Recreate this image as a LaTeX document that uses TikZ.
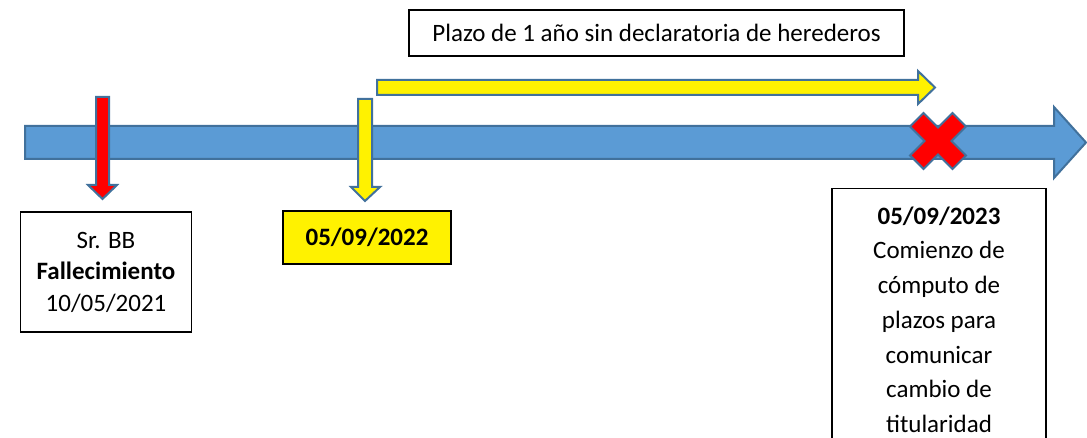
\documentclass[tikz,border=0pt]{standalone}
\usepackage{fontspec}
\setmainfont{Carlito}
\definecolor{barblue}{RGB}{91,155,213}
\definecolor{edgeblue}{RGB}{65,113,156}
\tikzset{
  shapeline/.style={draw=edgeblue, line width=2, line join=miter},
  infobox/.style={draw=black, line width=1.5, fill=white, align=center, inner sep=0, font=\fontsize{25}{31.5}\selectfont}
}
\begin{document}
\begin{tikzpicture}[x=1pt,y=1pt,yscale=-1,xscale=1]
\useasboundingbox (0,0) rectangle (1087,438);

%Shape: Right Arrow (timeline)
\draw [shapeline, fill=barblue] (25,126) -- (1054,126) -- (1054,107) -- (1086,142.5) -- (1054,178) -- (1054,159) -- (25,159) -- cycle ;

%Shape: Down Arrow
\draw [shapeline, fill=red] (96,97) -- (109,97) -- (109,185) -- (117,185) -- (102.5,199) -- (88,185) -- (96,185) -- cycle ;
%Shape: Down Arrow
\draw [shapeline, fill=yellow] (358,99) -- (372,99) -- (372,187) -- (380,187) -- (365,201) -- (351,187) -- (358,187) -- cycle ;
%Shape: Right Arrow
\draw [shapeline, fill=yellow] (377,80) -- (918,80) -- (918,71) -- (935,87.5) -- (918,104) -- (918,95) -- (377,95) -- cycle ;

%Shape: Multiply
\draw [shapeline, fill=red, shift={(938,141)}, rotate=45] (9.5,9.5) -- (9.5,30) -- (-9.5,30) -- (-9.5,9.5) -- (-30,9.5) -- (-30,-9.5) -- (-9.5,-9.5) -- (-9.5,-30) -- (9.5,-30) -- (9.5,-9.5) -- (30,-9.5) -- (30,9.5) -- cycle ;

% Text Node
\node [infobox, minimum width=495, minimum height=46] (term) at (656.5,33) {Plazo de 1 año sin declaratoria de herederos};
% Text Node
\node [infobox, minimum width=171, minimum height=120] (death) at (106,272) {Sr. BB\\\textbf{Fallecimiento}\\10/05/2021};
% Text Node
\node [infobox, fill=yellow, minimum width=168, minimum height=53] (firstdate) at (367,237.5) {\textbf{05/09/2022}};
% Text Node
\node [infobox, anchor=north, minimum width=214, inner ysep=18, font=\fontsize{25}{34.7}\selectfont] (start) at (939,188) {\textbf{05/09/2023}\\Comienzo de\\cómputo de\\plazos para\\comunicar\\cambio de\\titularidad};

\end{tikzpicture}
\end{document}
